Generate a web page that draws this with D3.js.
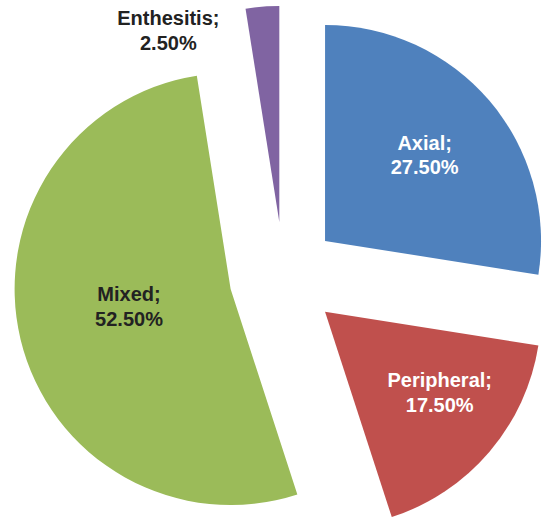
<!DOCTYPE html>
<html>
<head>
<meta charset="utf-8">
<script src="https://cdn.jsdelivr.net/npm/d3@7"></script>
<style>
  html, body { margin: 0; padding: 0; background: #ffffff; }
  svg { display: block; }
</style>
</head>
<body>
<svg id="chart" width="542" height="519"></svg>
<script>
// ---- data ----
const categories = ["Axial", "Peripheral", "Mixed", "Enthesitis"];
const values = [27.5, 17.5, 52.5, 2.5];

// ---- style / layout ----
const colors = ["#4F81BD", "#C0504D", "#9BBB59", "#8064A2"];
const labelColors = ["#ffffff", "#ffffff", "#222222", "#222222"];
// label placement: polar offset from each exploded slice's apex
const labelRadius = [132, 140, 103, 222];
const labelAngleDeg = [49, 125, 260.5, 330];

const W = 542, H = 519;
const cx = 283.6, cy = 276.3;
const R = 216;
const explode = 54.5;

const svg = d3.select("#chart");
const g = svg.append("g").attr("transform", `translate(${cx},${cy})`);

const pie = d3.pie().sort(null).value(d => d)(values);
const arc = d3.arc().innerRadius(0).outerRadius(R);
const fmt = d3.format(".2f");

const slices = g.selectAll("g.slice").data(pie).enter().append("g")
  .attr("class", "slice")
  .attr("transform", d => {
    const a = (d.startAngle + d.endAngle) / 2;
    return `translate(${explode * Math.sin(a)},${-explode * Math.cos(a)})`;
  });

slices.append("path")
  .attr("d", arc)
  .attr("fill", (d, i) => colors[i]);

const lbl = slices.append("text")
  .attr("text-anchor", "middle")
  .attr("font-family", "'Liberation Sans', Arial, sans-serif")
  .attr("font-weight", "bold")
  .attr("font-size", "20px")
  .attr("fill", (d, i) => labelColors[i])
  .attr("transform", (d, i) => {
    const a = labelAngleDeg[i] * Math.PI / 180;
    return `translate(${labelRadius[i] * Math.sin(a)},${-labelRadius[i] * Math.cos(a)})`;
  });

lbl.append("tspan").attr("x", 0).attr("y", -4.8).text((d, i) => categories[i] + ";");
lbl.append("tspan").attr("x", 0).attr("y", 20.2).text((d, i) => fmt(values[i]) + "%");
</script>
</body>
</html>
